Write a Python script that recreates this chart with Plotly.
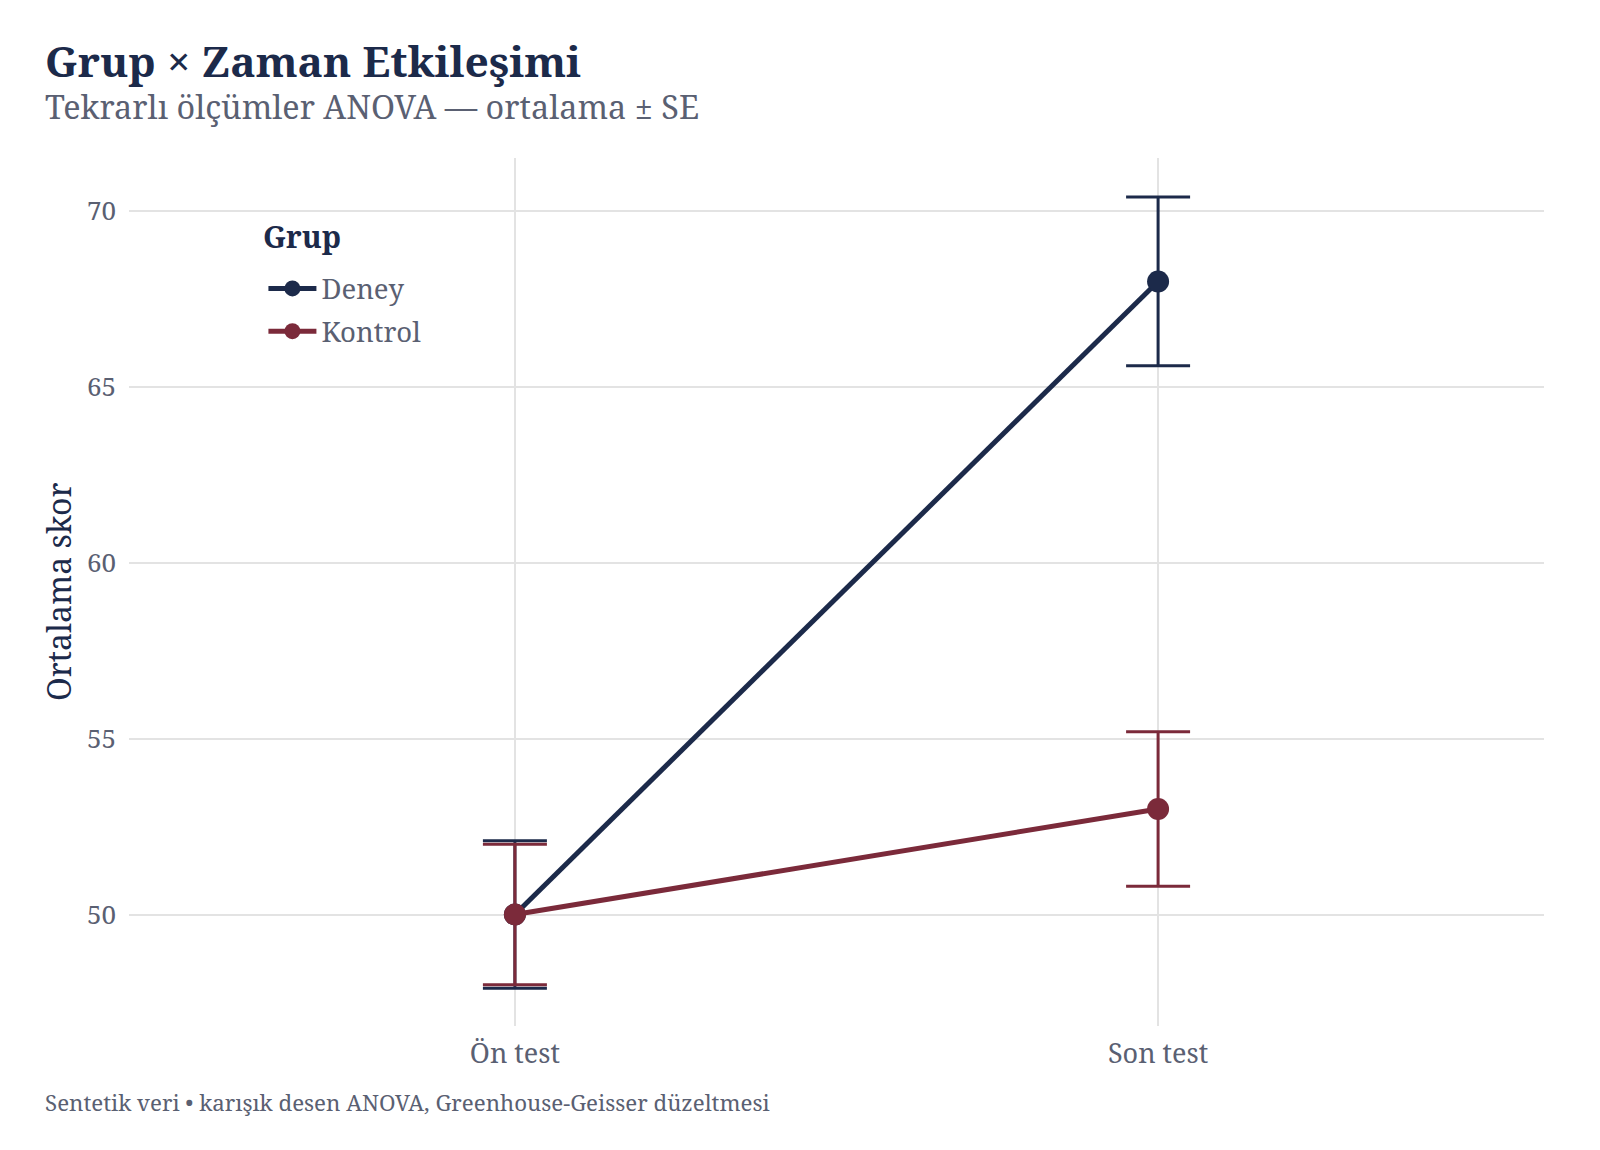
import plotly.graph_objects as go

time_points = ["Ön test", "Son test"]
deney_mean = [50.0, 68.0]
deney_se = [2.1, 2.4]
kontrol_mean = [50.0, 53.0]
kontrol_se = [2.0, 2.2]
y_ticks = [50, 55, 60, 65, 70]

NAVY = "#1c2a4a"
MAROON = "#7b2a3a"
GRAY = "#5a6072"
FONT = "Noto Serif, DejaVu Serif, Liberation Serif, serif"

W, H = 1600, 1150
L, R, T, B = 129, 56, 158, 124
PW, PH = W - L - R, H - T - B


def px(x):
    return (x - L) / PW


def py(y):
    return (H - B - y) / PH


fig = go.Figure()
for name, mean, se, color in [("Deney", deney_mean, deney_se, NAVY),
                              ("Kontrol", kontrol_mean, kontrol_se, MAROON)]:
    fig.add_trace(go.Scatter(
        x=[0, 1], y=mean, name=name, mode="lines+markers", legendgroup=name,
        line=dict(color=color, width=5),
        marker=dict(color=color, size=22),
        error_y=dict(type="data", array=se, visible=True, color=color,
                     thickness=3, width=32),
    ))

fig.update_layout(
    width=W, height=H,
    margin=dict(l=L, r=R, t=T, b=B),
    paper_bgcolor="white", plot_bgcolor="white",
    font=dict(family=FONT, color=GRAY, size=24),
    legend=dict(
        x=0.095, y=py(264), xanchor="left", yanchor="top",
        font=dict(size=27.5, color=GRAY), bgcolor="rgba(0,0,0,0)",
        itemwidth=48, tracegroupgap=4,
    ),
    xaxis=dict(
        tickmode="array", tickvals=[0, 1], ticktext=time_points,
        range=[-0.6, 1.6], showgrid=True, gridcolor="#e3e3e3", gridwidth=1.5,
        zeroline=False, showline=False, ticks="", tickfont=dict(size=27, color=GRAY),
        ticklabelstandoff=9,
    ),
    yaxis=dict(
        tickvals=y_ticks, range=[46.83, 71.51], showgrid=True,
        gridcolor="#e3e3e3", gridwidth=1.5, zeroline=False, showline=False,
        ticks="", tickfont=dict(size=26, color=GRAY), ticklabelstandoff=12,
    ),
    showlegend=True,
)

annos = [
    dict(text="<b>Grup × Zaman Etkileşimi</b>", x=px(43), y=py(60), size=42.5, color=NAVY),
    dict(text="Tekrarlı ölçümler ANOVA — ortalama ± SE", x=px(43), y=py(106), size=32.4, color=GRAY),
    dict(text="Sentetik veri • karışık desen ANOVA, Greenhouse-Geisser düzeltmesi",
         x=px(43), y=py(1102), size=22.3, color=GRAY),
    dict(text="<b>Grup</b>", x=px(261), y=py(237), size=30, color=NAVY),
]
for a in annos:
    fig.add_annotation(text=a["text"], xref="paper", yref="paper", x=a["x"], y=a["y"],
                       xanchor="left", yanchor="middle", showarrow=False,
                       font=dict(size=a["size"], color=a["color"], family=FONT))

fig.add_annotation(text="Ortalama skor", xref="paper", yref="paper", x=px(58), y=0.5,
                   xanchor="center", yanchor="middle", textangle=-90, showarrow=False,
                   font=dict(size=32, color=NAVY, family=FONT))

fig.write_html("out.html")
